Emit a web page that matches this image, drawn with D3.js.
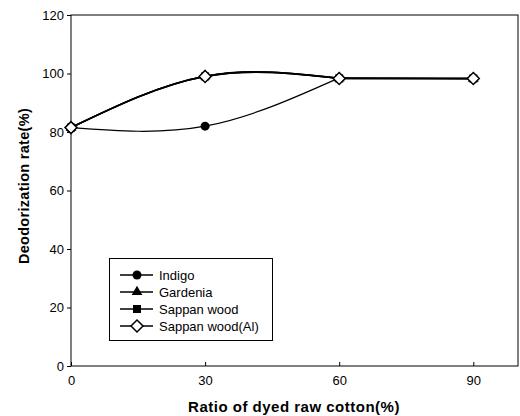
<!DOCTYPE html>
<html><head><meta charset="utf-8">
<script src="https://cdn.jsdelivr.net/npm/d3@7"></script>
<style>body{margin:0;background:#fff}svg{display:block}</style>
</head><body>
<script>
const xValues = [0, 30, 60, 90];
const indigo = [81.5, 82, 98.5, 98.2];
const gardenia = [81.5, 99.1, 98.4, 98.2];
const sappan = [81.5, 99.0, 98.3, 98.3];
const sappanAl = [81.5, 99.0, 98.3, 98.3];
const seriesNames = ["Indigo", "Gardenia", "Sappan wood", "Sappan wood(Al)"];
const xTicks = [0, 30, 60, 90];
const yTicks = [0, 20, 40, 60, 80, 100, 120];

const W = 520, H = 416;
const m = {left: 71, right: 2, top: 15, bottom: 50};
const svg = d3.select("body").append("svg").attr("width", W).attr("height", H);
const x = d3.scaleLinear().domain([0, 100]).range([m.left, W - m.right]);
const y = d3.scaleLinear().domain([0, 120]).range([H - m.bottom, m.top]);

const font = "Arial, 'Liberation Sans', sans-serif";
svg.append("rect").attr("x", x(0)).attr("y", y(120)).attr("width", x(100) - x(0)).attr("height", y(0) - y(120))
  .attr("fill", "none").attr("stroke", "#000").attr("stroke-width", 1);

const xAxis = svg.append("g").attr("transform", `translate(0,${y(0)})`)
  .call(d3.axisBottom(x).tickValues(xTicks).tickSize(-4).tickPadding(10));
const yAxis = svg.append("g").attr("transform", `translate(${x(0)},0)`)
  .call(d3.axisLeft(y).tickValues(yTicks).tickSize(4).tickPadding(3));
[xAxis, yAxis].forEach(g => {
  g.select(".domain").remove();
  g.selectAll("text").attr("font-family", font).attr("font-size", 13).attr("fill", "#000");
});

svg.append("text").attr("x", 294).attr("y", 412).attr("text-anchor", "middle")
  .attr("font-family", font).attr("font-weight", "bold").attr("font-size", 15).attr("letter-spacing", 0.5)
  .text("Ratio of dyed raw cotton(%)");
svg.append("text").attr("transform", `translate(29,186) rotate(-90)`).attr("text-anchor", "middle")
  .attr("font-family", font).attr("font-weight", "bold").attr("font-size", 14.5).attr("letter-spacing", 0.3)
  .text("Deodorization rate(%)");

const smooth = d3.line().x(d => x(d[0])).y(d => y(d[1])).curve(d3.curveNatural);
const straight = d3.line().x(d => x(d[0])).y(d => y(d[1])).curve(d3.curveMonotoneX);
const all = [indigo, gardenia, sappan, sappanAl];
const widths = [1.2, 1.5, 1.8, 1.6];
all.forEach((s, i) => {
  const pts = xValues.map((v, j) => [v, s[j]]);
  svg.append("path").attr("d", smooth(pts.slice(0, 3)) + straight(pts.slice(2)).replace(/^M/, "L"))
    .attr("fill", "none").attr("stroke", "#000").attr("stroke-width", widths[i]);
});

function marker(g, type, cx, cy) {
  if (type === 0) g.append("circle").attr("cx", cx).attr("cy", cy).attr("r", 4.5).attr("fill", "#000");
  else if (type === 1) g.append("path").attr("d", d3.symbol(d3.symbolTriangle, 50)()).attr("transform", `translate(${cx},${cy})`).attr("fill", "#000");
  else if (type === 2) g.append("rect").attr("x", cx - 4).attr("y", cy - 4).attr("width", 8).attr("height", 8).attr("fill", "#000");
  else g.append("path").attr("d", `M${cx},${cy-6}L${cx+6},${cy}L${cx},${cy+6}L${cx-6},${cy}Z`).attr("fill", "#fff").attr("stroke", "#000").attr("stroke-width", 1.5);
}
all.forEach((s, i) => {
  xValues.forEach((v, j) => marker(svg, i, x(v), y(s[j])));
});

const lg = svg.append("g");
lg.append("rect").attr("x", 109.5).attr("y", 258.5).attr("width", 163).attr("height", 82)
  .attr("fill", "#fff").attr("stroke", "#000").attr("stroke-width", 1);
seriesNames.forEach((n, i) => {
  const ly = 275 + i * 17;
  lg.append("line").attr("x1", 120).attr("x2", 153).attr("y1", ly).attr("y2", ly).attr("stroke", "#000").attr("stroke-width", 1.3);
  marker(lg, i, 137, ly);
  lg.append("text").attr("x", 159).attr("y", ly + 4.5).attr("font-family", font).attr("font-size", 13).text(n);
});
</script>
</body></html>
